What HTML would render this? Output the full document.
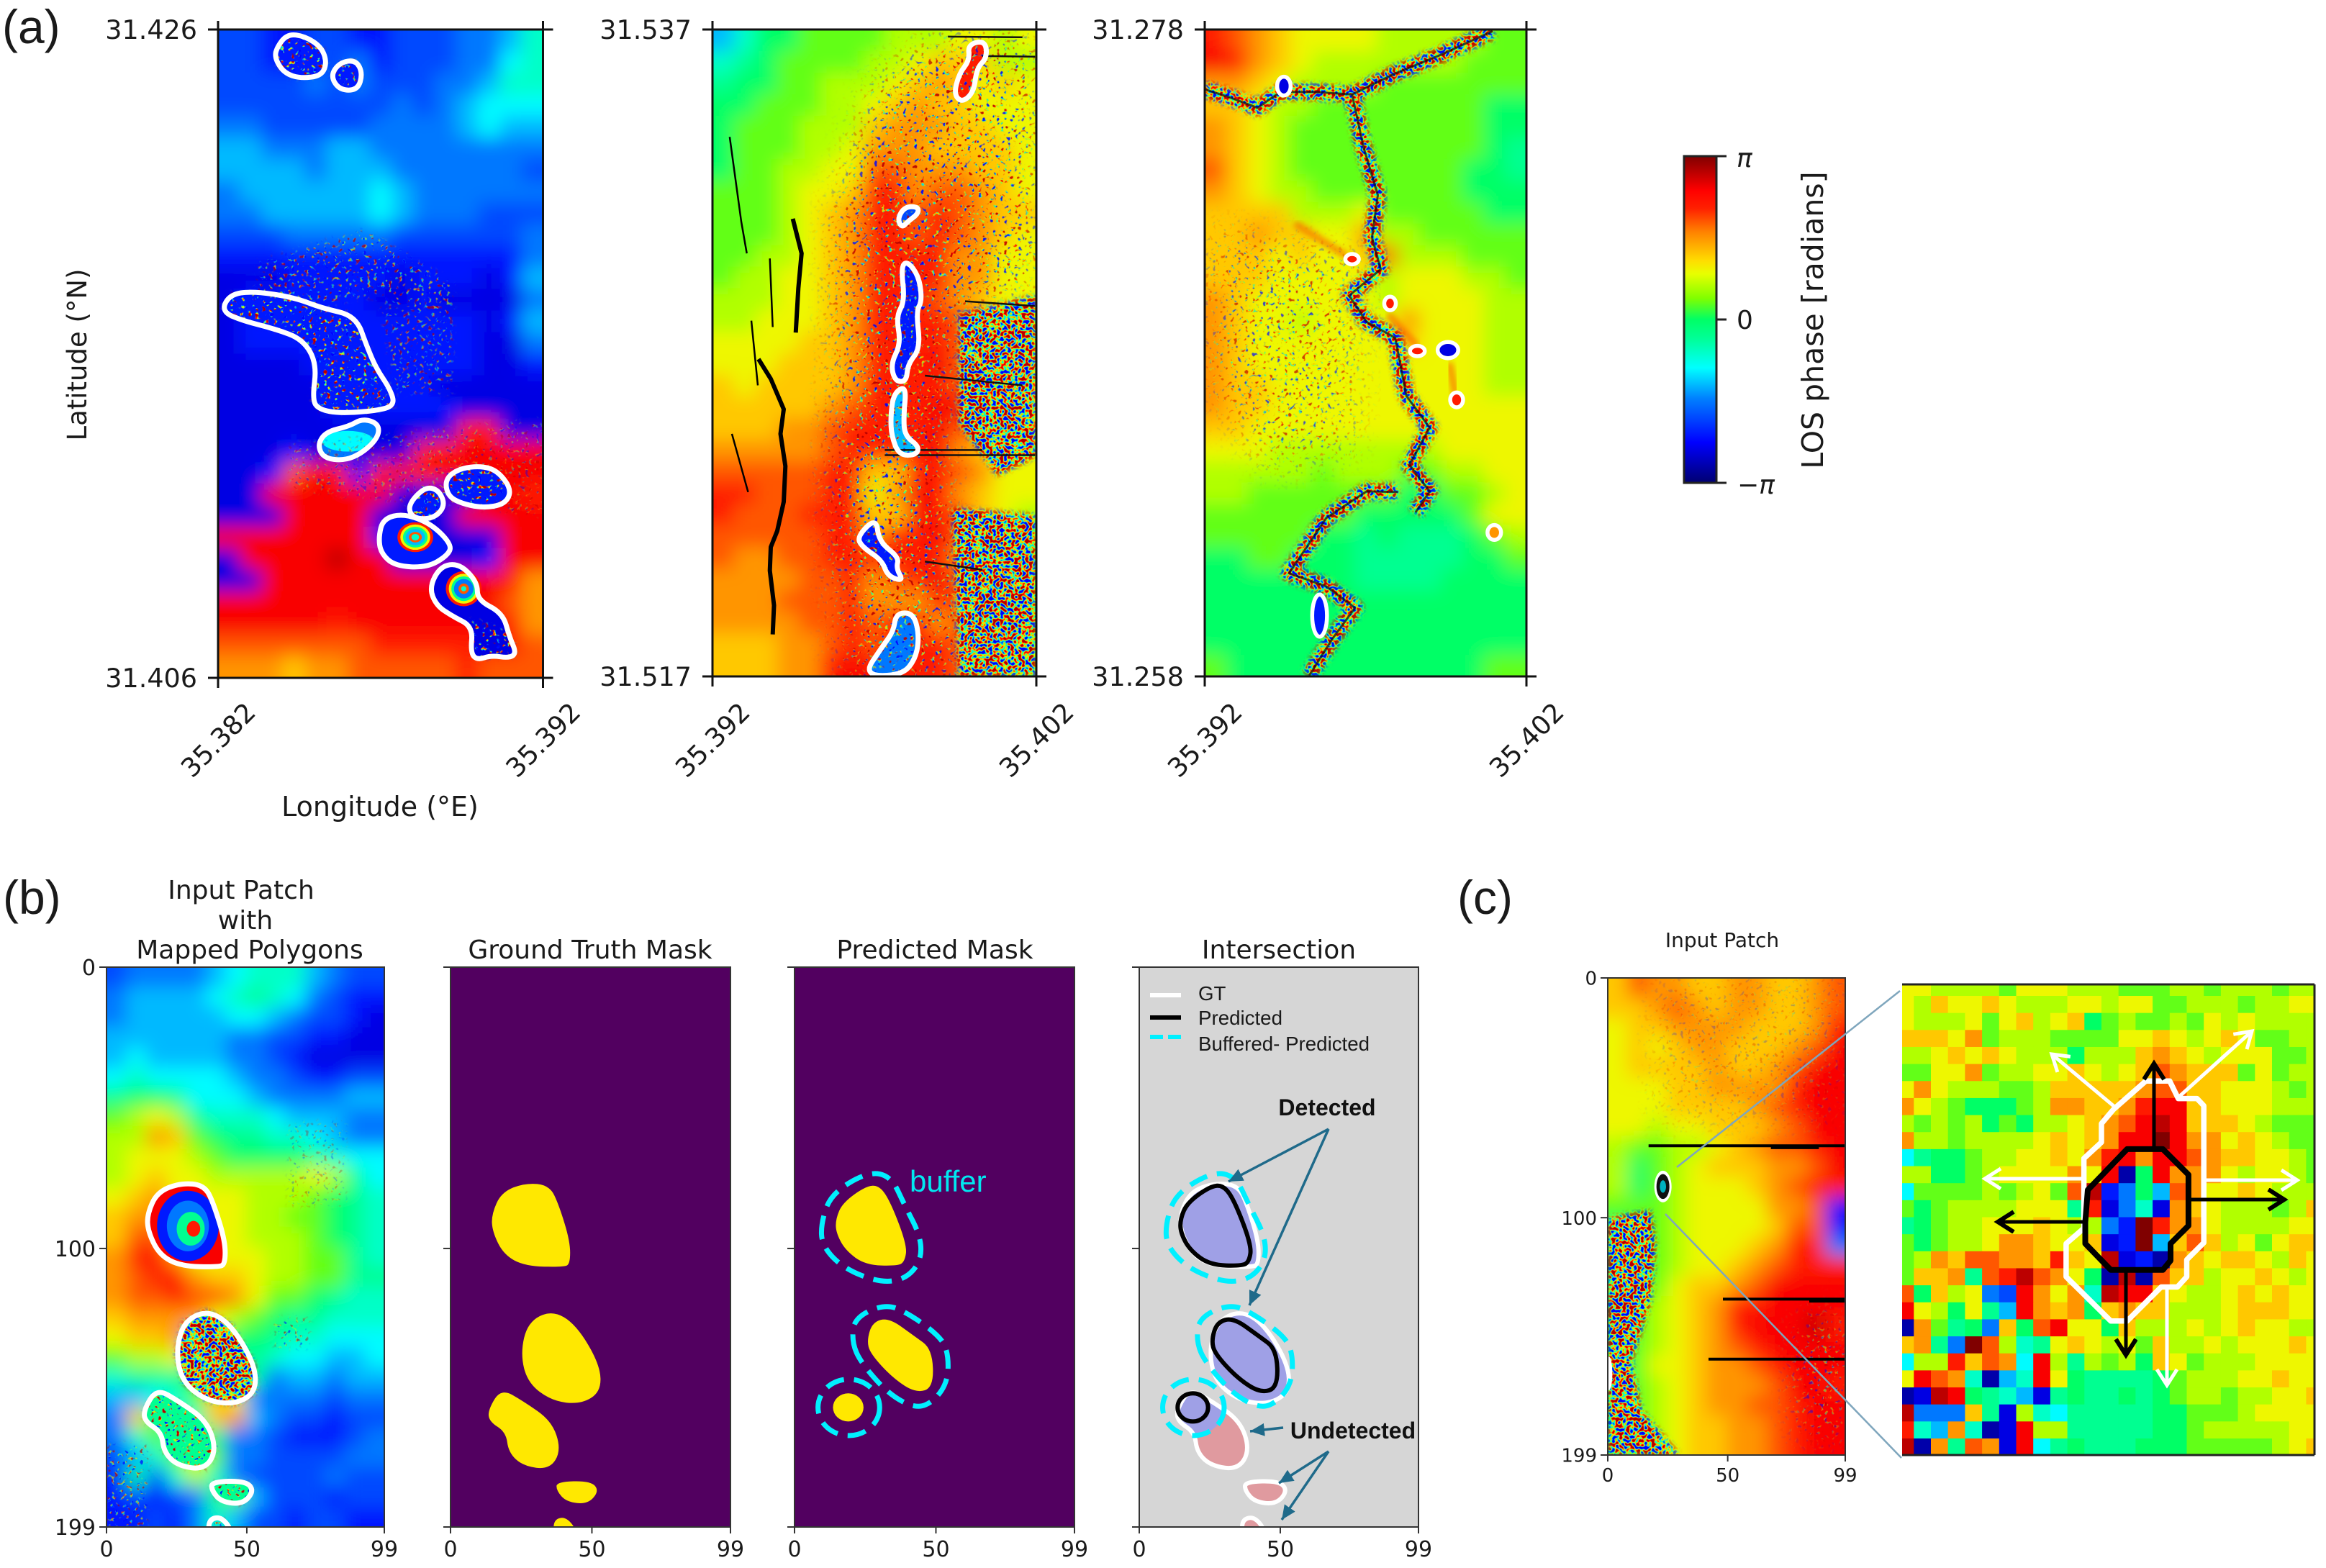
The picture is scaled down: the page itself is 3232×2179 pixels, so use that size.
<!DOCTYPE html>
<html lang="en">
<head>
<meta charset="utf-8">
<title>InSAR phase patches and detection masks</title>
<style>
html,body{margin:0;padding:0;background:#fff;}
svg{display:block;}
text{font-family:"DejaVu Sans","Liberation Sans",sans-serif;fill:#1a1a1a;}
.panel-letter{font-family:"Liberation Sans",sans-serif;font-size:66px;}
.lbl{font-size:37px;}
.title{font-size:36px;text-anchor:middle;}
.leg{font-family:"Liberation Sans",sans-serif;font-size:27.7px;}
.note{font-family:"Liberation Sans",sans-serif;font-weight:bold;font-size:32px;text-anchor:middle;fill:#111;}
</style>
</head>
<body>
<svg id="figure" xmlns="http://www.w3.org/2000/svg" width="3232" height="2179" viewBox="0 0 3232 2179">
<defs>
<filter id="soft"><feGaussianBlur stdDeviation="13"/></filter>
<filter id="softSmall"><feGaussianBlur stdDeviation="4"/></filter>
<filter id="softBig"><feGaussianBlur stdDeviation="24"/></filter>
<filter id="speckle" x="0" y="0" width="1" height="1" color-interpolation-filters="sRGB">
<feTurbulence type="fractalNoise" baseFrequency="0.2" numOctaves="1" seed="7"/>
<feColorMatrix type="matrix" values="3.6 0 0 0 -1.3  3.6 0 0 0 -1.3  3.6 0 0 0 -1.3  0 0 0 0 1"/>
<feComponentTransfer>
<feFuncR type="table" tableValues="0 0 0 .1 .8 1 1 1 .7"/>
<feFuncG type="table" tableValues="0 .3 .9 1 1 .8 .2 0 0"/>
<feFuncB type="table" tableValues="1 1 1 .6 0 0 0 0 0"/>
</feComponentTransfer>
</filter>
<filter id="speckleSparse" x="0" y="0" width="1" height="1" color-interpolation-filters="sRGB">
<feTurbulence type="fractalNoise" baseFrequency="0.2" numOctaves="1" seed="11"/>
<feColorMatrix type="matrix" values="3.6 0 0 0 -1.3  3.6 0 0 0 -1.3  3.6 0 0 0 -1.3  0 9 0 0 -5"/>
<feComponentTransfer>
<feFuncR type="table" tableValues="0 0 0 .1 .8 1 1 1 .7"/>
<feFuncG type="table" tableValues="0 .3 .9 1 1 .8 .2 0 0"/>
<feFuncB type="table" tableValues="1 1 1 .6 0 0 0 0 0"/>
</feComponentTransfer>
</filter>
<linearGradient id="phaseGradient" x1="0" y1="1" x2="0" y2="0">
<stop offset="0" stop-color="#000070"/><stop offset=".124" stop-color="#0000ff"/><stop offset=".258" stop-color="#0080ff"/><stop offset=".352" stop-color="#00ffff"/><stop offset=".44" stop-color="#00ff99"/><stop offset=".5" stop-color="#00ff66"/><stop offset=".565" stop-color="#80ff00"/><stop offset=".64" stop-color="#e8ff00"/><stop offset=".68" stop-color="#ffdd00"/><stop offset=".77" stop-color="#ff8000"/><stop offset=".84" stop-color="#ff2000"/><stop offset=".895" stop-color="#ff0000"/><stop offset="1" stop-color="#800000"/>
</linearGradient>
<marker id="headWhite" markerUnits="userSpaceOnUse" markerWidth="30" markerHeight="34" refX="24" refY="16" orient="auto"><path d="M2,2 L24,16 L2,30" fill="none" stroke="#fff" stroke-width="5"/></marker>
<marker id="headBlack" markerUnits="userSpaceOnUse" markerWidth="30" markerHeight="34" refX="24" refY="16" orient="auto"><path d="M2,2 L24,16 L2,30" fill="none" stroke="#000" stroke-width="6"/></marker>
<marker id="headTeal" markerUnits="userSpaceOnUse" markerWidth="22" markerHeight="18" refX="20" refY="9" orient="auto"><path d="M0,0 L20,9 L0,18 Z" fill="#1f6a8a"/></marker>
</defs>

<g id="rasters"></g>

<text class="panel-letter" x="3" y="60">(a)</text>
<text class="panel-letter" x="4" y="1270">(b)</text>
<text class="panel-letter" x="2025" y="1270">(c)</text>

<text class="lbl" transform="translate(120,493) rotate(-90)" text-anchor="middle">Latitude (°N)</text>
<text class="lbl" x="528" y="1134" text-anchor="middle" style="font-size:38px">Longitude (°E)</text>

<g>
<rect x="2340" y="217" width="45" height="454" fill="url(#phaseGradient)" stroke="#222" stroke-width="3"/>
<line x1="2385" x2="2399" y1="217" y2="217" stroke="#222" stroke-width="3"/>
<line x1="2385" x2="2399" y1="444" y2="444" stroke="#222" stroke-width="3"/>
<line x1="2385" x2="2399" y1="671" y2="671" stroke="#222" stroke-width="3"/>
<text x="2413" y="232" font-size="36" font-style="italic">π</text>
<text x="2413" y="457" font-size="36">0</text>
<text x="2414" y="686" font-size="36" font-style="italic">−π</text>
<text transform="translate(2533,445) rotate(-90)" text-anchor="middle" font-size="41">LOS phase [radians]</text>
</g>

<text class="title" x="335" y="1249">Input Patch</text>
<text class="title" x="341" y="1291">with</text>
<text class="title" x="347" y="1332">Mapped Polygons</text>
<text class="title" x="820" y="1332">Ground Truth Mask</text>
<text class="title" x="1299" y="1332">Predicted Mask</text>
<text class="title" x="1777" y="1332">Intersection</text>
<text x="2393" y="1316" text-anchor="middle" font-size="28">Input Patch</text>

<g id="overlays"></g>

<text x="1264" y="1656" font-size="42" style="font-family:'Liberation Sans',sans-serif;fill:#00e8f0">buffer</text>

<g>
<line x1="1598" x2="1641" y1="1383" y2="1383" stroke="#fff" stroke-width="6"/>
<line x1="1598" x2="1641" y1="1414" y2="1414" stroke="#000" stroke-width="6"/>
<line x1="1598" x2="1641" y1="1441" y2="1441" stroke="#00f0ff" stroke-width="6" stroke-dasharray="18 7"/>
<text class="leg" x="1665" y="1390">GT</text>
<text class="leg" x="1665" y="1424">Predicted</text>
<text class="leg" x="1665" y="1460">Buffered- Predicted</text>
</g>

<g fill="none" stroke="#1f6a8a" stroke-width="3.5">
<line x1="1846" y1="1569" x2="1707" y2="1642" marker-end="url(#headTeal)"/>
<line x1="1846" y1="1569" x2="1736" y2="1814" marker-end="url(#headTeal)"/>
<line x1="1783" y1="1984" x2="1737" y2="1989" marker-end="url(#headTeal)"/>
<line x1="1846" y1="2017" x2="1777" y2="2061" marker-end="url(#headTeal)"/>
<line x1="1846" y1="2017" x2="1781" y2="2112" marker-end="url(#headTeal)"/>
</g>
<text class="note" x="1844" y="1550">Detected</text>
<text class="note" x="1880" y="1999">Undetected</text>

<line x1="2330" y1="1622" x2="2640" y2="1377" stroke="#7fa6bd" stroke-width="2.5"/>
<line x1="2314" y1="1687" x2="2642" y2="2026" stroke="#7fa6bd" stroke-width="2.5"/>

<g fill="none">
<line x1="2937" y1="1537" x2="2851" y2="1465" stroke="#fff" stroke-width="5" marker-end="url(#headWhite)"/>
<line x1="3029" y1="1523" x2="3129" y2="1433" stroke="#fff" stroke-width="5" marker-end="url(#headWhite)"/>
<line x1="2894" y1="1638" x2="2758" y2="1638" stroke="#fff" stroke-width="5" marker-end="url(#headWhite)"/>
<line x1="3065" y1="1640" x2="3192" y2="1640" stroke="#fff" stroke-width="5" marker-end="url(#headWhite)"/>
<line x1="3011" y1="1790" x2="3011" y2="1925" stroke="#fff" stroke-width="5" marker-end="url(#headWhite)"/>
<line x1="2993" y1="1597" x2="2993" y2="1478" stroke="#000" stroke-width="5" marker-end="url(#headBlack)"/>
<line x1="3042" y1="1667" x2="3174" y2="1667" stroke="#000" stroke-width="5" marker-end="url(#headBlack)"/>
<line x1="2899" y1="1698" x2="2776" y2="1698" stroke="#000" stroke-width="5" marker-end="url(#headBlack)"/>
<line x1="2954" y1="1767" x2="2954" y2="1883" stroke="#000" stroke-width="5" marker-end="url(#headBlack)"/>
</g>
</svg>

<script>
/* Phase bins: 0 = -pi ... 10 = 0 ... 20 = +pi */
const a1LatTicks = [31.426, 31.406];
const a1LonTicks = [35.382, 35.392];
const a2LatTicks = [31.537, 31.517];
const a2LonTicks = [35.392, 35.402];
const a3LatTicks = [31.278, 31.258];
const a3LonTicks = [35.392, 35.402];
const patchColTicks = [0, 50, 99];
const patchRowTicks = [0, 100, 199];

const a1Phase = [
[4,4,3,3,4,4,3,3,4,4,4,5,5,6,8],
[4,4,3,3,4,4,5,3,4,4,4,5,5,7,8],
[4,4,4,4,5,4,5,4,4,4,5,5,6,8,8],
[4,4,4,4,4,4,4,4,5,4,5,6,7,7,7],
[5,5,4,4,4,4,4,5,5,5,5,6,7,6,6],
[6,6,5,5,5,6,6,5,5,5,5,5,5,5,5],
[6,6,6,6,5,6,6,6,5,5,5,5,5,5,4],
[5,6,6,6,6,6,6,7,6,5,5,5,5,5,5],
[5,5,6,6,6,6,6,7,6,5,5,5,4,4,4],
[4,4,4,5,5,5,5,5,4,4,4,4,4,4,5],
[3,3,3,3,3,3,3,3,3,3,3,3,3,3,5],
[2,2,2,3,3,3,3,3,2,3,3,3,2,3,6],
[2,3,3,3,3,3,3,2,2,3,2,2,2,2,5],
[2,3,3,3,3,3,3,3,3,3,3,3,2,3,6],
[2,3,3,3,3,3,3,3,3,3,3,3,2,2,5],
[2,2,2,2,3,3,3,3,3,3,3,3,2,2,3],
[2,2,2,2,2,3,3,3,3,3,2,2,2,2,2],
[2,2,2,2,2,3,3,3,3,3,3,2,2,2,2],
[2,2,2,2,2,2,2,2,2,2,2,17,17,2,2],
[2,2,2,3,2,2,2,2,2,17,17,18,18,18,18],
[2,2,3,16,18,17,3,17,18,17,18,18,18,18,18],
[2,2,18,18,18,18,18,18,2,2,2,2,18,18,17],
[2,2,2,18,18,18,18,2,2,2,2,18,18,18,18],
[18,18,18,18,18,18,18,3,2,2,2,2,2,18,18],
[2,18,18,18,18,19,18,18,2,2,2,2,3,18,18],
[2,2,18,18,18,18,18,18,18,18,18,18,18,17,15],
[18,18,18,18,18,18,18,18,18,18,18,18,18,16,15],
[18,18,18,18,18,17,18,18,18,18,18,18,17,17,15],
[16,16,16,16,16,16,16,17,17,17,17,17,17,17,16],
[15,15,15,14,15,15,16,16,16,16,16,17,16,16,16]];

const a2Phase = [
[6,8,10,10,11,11,11,11,12,12,12,13,13,12,13],
[8,9,10,11,11,11,11,12,12,13,14,14,14,12,12],
[9,10,10,11,11,12,12,12,13,14,15,14,13,14,13],
[10,10,11,11,11,12,12,13,14,15,14,14,13,13,13],
[10,11,11,11,12,12,12,14,15,15,15,14,14,13,13],
[10,11,11,11,12,12,13,15,15,15,14,14,14,14,13],
[10,11,11,12,12,13,13,16,16,15,15,15,14,14,13],
[11,11,11,12,13,13,14,17,17,15,16,16,15,14,13],
[11,11,11,12,13,14,15,17,17,16,17,16,15,14,14],
[11,11,11,12,13,14,15,17,17,16,17,16,15,14,13],
[11,11,12,12,13,14,15,17,17,17,17,15,15,13,13],
[11,12,12,13,13,14,15,17,17,17,17,15,15,13,13],
[12,12,12,13,13,14,15,17,17,17,16,15,14,13,13],
[12,12,13,13,13,14,15,17,17,17,17,16,15,13,12],
[13,13,13,13,14,14,15,17,17,17,17,16,15,13,13],
[13,13,13,14,14,14,15,17,17,17,18,16,15,13,13],
[14,13,14,14,14,14,15,17,17,17,17,16,16,14,14],
[14,14,14,14,14,15,16,17,17,17,18,18,15,14,14],
[14,14,14,15,15,16,17,17,17,17,18,16,17,14,13],
[15,15,15,15,15,16,17,17,17,17,18,15,14,13,13],
[16,16,16,16,16,17,17,14,14,17,17,16,15,13,13],
[17,17,16,16,16,17,17,13,15,18,17,15,14,13,13],
[17,16,16,16,17,17,17,14,14,18,17,16,14,13,12],
[16,16,16,16,16,17,17,15,17,17,18,16,14,12,12],
[16,15,15,16,16,17,17,17,17,17,17,15,14,12,12],
[15,15,15,15,16,16,17,15,16,17,18,16,14,12,12],
[15,15,15,16,16,16,17,15,15,15,17,16,14,12,12],
[15,15,15,15,16,16,17,16,17,17,15,16,14,12,12],
[14,14,14,15,15,16,17,16,17,17,17,16,14,12,12],
[14,14,14,15,15,17,18,17,17,17,17,16,14,12,12]];

const a3Phase = [
[17,16,15,14,13,13,13,13,12,12,12,12,12,11,11],
[18,17,15,14,13,12,12,12,12,12,12,12,11,11,11],
[15,15,14,13,12,12,12,12,11,11,11,11,11,11,11],
[14,14,13,12,12,11,11,11,11,11,11,11,11,10,10],
[15,14,13,12,11,11,11,11,11,11,11,11,11,10,10],
[15,14,13,12,11,11,11,11,11,11,11,11,11,10,9],
[16,14,13,12,11,11,11,11,11,11,11,11,10,10,9],
[15,14,13,12,12,11,11,11,11,11,11,11,10,10,10],
[14,14,14,14,12,12,12,13,11,11,11,11,11,10,10],
[14,14,15,14,14,13,13,15,12,12,11,11,11,11,11],
[14,14,14,13,14,13,13,14,16,12,12,12,11,11,11],
[14,14,14,13,13,13,13,13,12,13,13,13,12,12,11],
[15,14,13,13,13,13,13,13,12,13,13,13,13,12,12],
[15,14,13,13,12,13,13,13,13,15,13,13,13,12,12],
[15,14,13,13,13,13,13,13,13,14,13,13,13,12,12],
[15,14,13,13,13,13,13,13,13,13,13,13,13,12,12],
[15,14,14,13,13,13,13,13,13,13,13,13,13,12,12],
[15,14,14,13,13,13,13,13,13,13,13,13,13,13,13],
[14,14,13,13,13,13,13,13,13,13,13,13,13,13,13],
[13,13,13,12,12,12,12,12,12,12,12,13,13,13,13],
[12,12,12,12,12,11,12,12,12,11,11,12,12,13,13],
[12,12,11,11,11,11,11,11,11,10,10,11,11,12,13],
[11,11,11,11,11,11,11,10,10,10,10,10,11,13,13],
[11,11,11,11,11,10,10,9,10,9,9,9,10,11,12],
[10,10,11,11,10,10,10,9,9,9,9,9,10,10,11],
[10,10,10,10,10,10,10,9,9,9,9,10,10,10,10],
[10,10,10,10,10,10,10,10,10,10,10,10,10,10,10],
[10,10,10,10,10,10,10,10,10,10,10,10,10,10,10],
[10,10,10,10,10,10,10,10,10,10,10,10,10,10,10],
[11,10,10,10,10,10,10,10,10,10,10,10,10,11,11]];

const b1Phase = [
[4,5,5,5,5,6,7,8,8,8,6,5,4,4],
[5,6,6,6,6,7,8,9,8,7,5,4,3,3],
[5,6,6,6,6,6,7,7,6,5,4,4,3,2],
[6,6,6,6,6,6,5,5,4,4,3,3,2,2],
[6,7,6,6,6,6,5,5,4,3,2,2,2,2],
[7,8,7,7,7,7,6,5,5,4,3,3,4,4],
[9,10,10,9,7,7,7,6,5,5,5,5,6,6],
[11,12,13,12,9,8,8,8,7,6,6,6,5,5],
[12,12,15,14,11,10,9,9,8,8,7,6,5,5],
[12,13,13,13,12,11,10,10,10,10,9,8,7,7],
[12,13,14,13,13,12,12,12,12,12,13,12,9,7],
[13,14,15,13,13,13,13,12,12,12,11,10,9,8],
[14,15,15,13,13,13,13,12,12,11,11,10,9,8],
[14,16,16,14,13,13,13,12,12,12,11,10,9,8],
[15,17,17,15,13,13,13,13,12,12,11,11,9,8],
[15,16,17,17,15,14,14,13,12,12,11,11,9,9],
[15,16,16,17,16,16,15,13,11,11,10,9,8,8],
[14,15,15,15,15,13,12,11,10,9,9,8,8,8],
[13,14,14,15,6,13,10,10,9,8,8,7,7,7],
[11,12,12,13,5,17,8,9,8,7,7,6,6,7],
[8,9,9,9,10,12,10,9,5,6,6,5,6,6],
[6,6,7,8,11,14,13,5,5,5,5,4,5,5],
[5,14,10,7,8,14,15,6,5,4,4,3,4,4],
[5,8,11,8,11,9,5,5,4,3,3,3,4,5],
[4,6,8,11,13,11,5,5,4,4,4,4,5,5],
[3,9,4,8,12,8,5,4,4,4,4,5,4,4],
[3,4,3,4,5,9,11,6,4,4,4,3,4,4],
[3,3,4,3,5,8,6,4,4,3,4,4,3,3]];

const c1Phase = [
[14,16,15,15,14,14,15,15,14,14,15,16],
[14,14,15,16,15,14,15,15,14,14,15,16],
[13,14,14,15,15,15,15,14,14,14,15,17],
[13,14,13,14,15,15,14,14,14,15,16,18],
[13,14,14,14,14,15,14,14,15,16,18,18],
[13,13,13,14,14,15,15,15,15,17,18,18],
[13,13,13,14,14,14,14,15,16,17,18,18],
[13,13,12,13,13,14,14,14,15,16,18,18],
[12,11,11,12,12,13,14,15,16,16,17,18],
[12,10,11,12,13,14,14,14,15,15,16,18],
[12,10,11,12,13,13,13,14,15,16,17,17],
[11,11,11,12,13,13,13,13,15,15,16,3],
[10,11,11,12,13,13,13,13,14,16,16,3],
[10,11,11,12,13,13,13,14,15,17,17,5],
[10,11,11,12,13,13,14,15,16,17,17,17],
[10,11,11,13,14,14,15,16,18,18,18,18],
[10,11,12,13,14,15,17,17,18,18,18,18],
[10,11,12,13,14,15,17,18,18,18,19,17],
[10,11,12,13,14,15,16,17,18,18,18,18],
[10,11,13,13,14,15,15,16,17,18,18,18],
[10,11,12,13,14,15,15,15,16,18,18,17],
[10,11,12,13,14,15,15,16,16,17,18,18],
[10,11,12,13,14,14,15,15,16,17,18,18],
[10,11,12,13,14,14,15,15,16,17,18,18]];

const insetPhase = [
[13,13,12,12,12,12,11,13,13,13,12,12,12,11,11,11,12,12,11,12,12,12,11,12,12],
[13,12,14,13,13,14,13,12,12,12,13,13,12,13,13,11,11,12,12,12,11,12,12,13,13],
[13,12,12,12,13,11,13,14,12,13,14,10,11,12,11,11,12,11,13,12,13,12,12,12,12],
[14,14,14,13,15,11,12,12,12,11,11,11,11,13,13,14,13,12,13,14,13,11,11,12,12],
[12,12,13,14,13,14,13,12,12,12,10,12,12,12,14,15,14,13,12,13,13,13,11,11,12],
[11,11,13,13,15,11,12,12,13,13,14,13,12,13,14,16,15,14,14,14,11,13,11,12,12],
[13,15,13,12,12,12,11,11,12,14,14,14,14,14,15,16,16,14,14,13,13,13,12,11,12],
[15,13,12,11,10,10,10,11,12,15,15,14,14,15,17,18,18,14,14,13,13,13,12,12,12],
[12,11,12,11,12,10,11,10,12,12,13,14,15,16,18,19,18,14,14,14,13,12,11,11,11],
[15,12,12,11,12,12,12,12,13,14,13,14,15,18,18,20,18,15,15,13,14,13,12,11,11],
[7,9,10,10,11,12,12,13,13,14,13,15,17,18,15,18,18,16,15,14,14,13,13,12,11],
[12,12,10,10,11,12,13,13,13,13,15,13,18,1,10,18,15,15,15,13,12,13,13,12,11],
[7,11,11,11,11,12,11,12,13,11,16,19,3,5,10,6,16,15,13,13,14,13,12,12,12],
[11,10,11,12,12,12,12,13,13,13,9,17,2,5,8,2,15,14,13,12,12,12,11,12,14],
[9,10,11,12,12,13,13,13,14,13,12,12,5,3,20,17,15,15,13,12,12,12,12,13,13],
[11,10,11,12,12,13,15,15,14,13,13,14,2,3,20,6,14,16,14,12,13,11,13,14,14],
[11,12,15,14,16,16,15,15,14,17,14,13,19,2,3,1,15,14,13,14,14,13,12,14,13],
[11,14,14,15,9,16,17,19,16,15,13,10,1,19,1,16,14,14,12,13,13,14,13,12,13],
[16,10,14,12,13,5,4,18,15,13,15,8,19,18,18,14,13,12,12,13,14,13,14,13,13],
[18,13,12,10,13,9,6,18,15,14,15,10,14,15,14,14,12,12,12,13,14,14,14,13,13],
[1,15,11,9,10,5,14,10,16,18,13,13,10,14,12,12,12,13,12,13,14,13,13,12,12],
[14,15,9,5,20,16,12,8,9,13,14,13,12,13,11,14,12,12,13,12,13,13,13,14,13],
[7,12,12,17,14,16,15,7,18,12,9,12,11,12,10,14,13,11,12,12,12,13,13,13,13],
[13,18,16,15,8,1,6,8,18,13,10,9,9,9,9,10,11,12,12,12,13,13,14,13,13],
[1,2,19,18,10,9,8,6,2,9,10,9,9,10,9,10,11,12,12,11,12,12,13,13,14],
[19,5,5,5,14,9,2,12,8,7,9,9,9,9,9,10,10,11,11,11,12,13,13,13,13],
[17,8,6,15,8,1,2,18,12,12,9,9,9,9,9,10,10,11,12,12,12,12,12,13,13],
[19,1,15,9,16,15,2,18,7,9,10,9,9,9,10,10,10,11,11,11,11,11,12,13,14]];

/* Outlines in patch units: x 0-100, y 0-200 */
const a1Outlines = [
[[17.7,6.2],[21.2,1.3],[26.8,2.1],[31.8,5.4],[33.5,10.2],[31.8,14.3],[25.4,15.1],[20.5,13.5],[17.7,9.4]],
[[34.6,14.3],[37.4,10.2],[42.4,9.4],[44.5,13.5],[43,18.7],[37.4,18.7]],
[[1,87],[3.5,81.8],[10.6,80.7],[23.3,82.6],[31.8,85.9],[42.4,88.3],[45.9,98],[48.7,104.6],[53,111],[54.4,116],[48.7,117.6],[37.4,118.4],[31.1,117.2],[29,114.3],[30.4,103],[26.1,95.6],[17.7,92.4],[7.8,89.9]],
[[30.6,128.1],[33.2,124.1],[40.3,122.4],[44.5,120],[49.4,121.6],[49.4,125.7],[44.5,130.6],[38.8,133],[32.5,132.2]],
[[69.9,138.7],[74.2,135.4],[81.2,134.6],[86.2,136.3],[90.4,142],[88.3,146.5],[81.2,147.6],[74.2,146],[70.6,143.6]],
[[58.3,146.8],[63.6,141.1],[67.8,141.9],[70,146.8],[66.4,150.9],[60,150.9]],
[[49.4,156.6],[50.8,150.9],[57.2,149.3],[65.7,152.5],[72,159],[70.6,162.3],[64.3,166],[54.4,165.5],[50.1,161.5]],
[[65,172],[68.5,165.5],[74.2,164.7],[79.8,170.4],[79.8,176],[87.6,180],[89.7,187.4],[91.8,192.3],[89.7,193.9],[84,193.1],[79.8,194.5],[77.7,192.3],[78.4,184.2],[72,180.9],[67.1,177.6]]];
const a1OutlineFill = [3, 3, 3, 5, 3, 3, 3, 2];
const a1Rings = [
[40,127,8,3.2,7],
[60.7,156.6,5.5,4.6,17],[60.7,156.6,4.6,3.9,13],[60.7,156.6,3.8,3.2,9],[60.7,156.6,3,2.5,6],[60.7,156.6,2,1.6,16],[60.7,156.6,1.2,1,8],
[75.6,172.5,5.5,5.4,17],[75.6,172.5,4.6,4.6,13],[75.6,172.5,3.8,3.8,9],[75.6,172.5,3,3,5],[75.6,172.5,1.6,1.6,16],[75.6,172.5,.8,.8,8]];

const a2Outlines = [
[[78.9,4.6],[84.2,3.4],[84.8,8.7],[81.6,11.9],[80.7,19.3],[77.1,22.6],[74.5,20],[76.2,13.6],[79.4,9.5]],
[[57.1,58.5],[59.4,54.8],[63.5,54.8],[63.5,57],[60.3,59.4],[58.5,61.3]],
[[58.2,73.3],[60.3,71.6],[63.8,76.5],[64.7,83.9],[62.9,87.2],[64.2,98.6],[60.3,103.5],[59.9,108.8],[56.4,108.8],[55,103.5],[58.2,97],[56.7,88.8],[59.4,83.9]],
[[55,119.9],[55.9,112.5],[59.9,110],[59,119.9],[59.4,125.6],[63.8,128.9],[62.9,131.6],[57.6,131.6],[55.3,125.6]],
[[44.7,156.7],[50.5,150.9],[51.4,158.3],[57.6,163.2],[56.7,166.5],[59,170.6],[54.1,169],[52.3,164],[46.1,159.9]],
[[46.5,199.7],[52.3,191],[55.9,186.1],[56.7,180.4],[62,180.4],[63.8,186.9],[62.9,194.3],[58.5,199.7]]];
const a2OutlineFill = [17, 4, 3, 6, 3, 5];

const a2Cracks = [
[[24.8,58.5],[27.5,69.2],[26.5,80],[25.7,93.7]],
[[14.2,101.9],[18,108],[22,117.4],[21,125],[22.5,135],[22,146],[20,155],[18,160],[17.7,167.3],[19,178],[18.6,187]],
[[5.3,33.2],[8.9,59.4],[10.6,69.2]],
[[17.7,70.8],[18.6,92]],
[[6,125],[11,143]],
[[12,90],[14,110]]];
const a2CrackWidth = [6, 6, 2.5, 2.5, 2.5, 2.5];

const a2Streaks = [
[[72.7,2.2],[95.7,2.4]],
[[83.3,8.2],[99.6,8.4]],
[[78,84],[99.5,85.5]],
[[65.6,107],[95.7,110]],
[[53.2,130],[83.3,130]],
[[53.2,131.6],[99.6,131.6]],
[[65.6,164.5],[83.3,167]]];

const a3Spots = [
[24.6,17.5,2.1,2.9,2],
[45.8,71,2.1,1.6,17],
[57.6,84.7,1.8,2.1,17],
[66.1,99.4,2.3,1.6,17],
[75.6,99.1,3.2,2.5,2],
[78.3,114.5,2,2.3,17],
[90,155.5,2.1,2.3,15],
[35.7,181.2,2.3,6.5,3]];

const a3River = [
[[0,18.5],[7.5,20.9],[16.4,24.2],[23.5,19.3],[34.2,19.3],[45.8,20.1],[59.2,13.6],[73.4,7.8],[89.5,0.5]],
[[45.8,20.1],[49.4,36.5],[53.8,51.2],[52,64.3],[54.7,74.1],[44.9,82.3],[50.3,90.4],[59.2,95.3],[62.7,113.3],[69.9,123.1],[63.6,134.6],[69.9,142.8],[65.5,149.3]],
[[60,143],[50.3,142.8],[37.8,151],[26.2,168.1],[37.8,172.2],[46.7,178.8],[39.6,188.5],[32.5,199.7]]];

const a3Plumes = [
[[44,70],[28,60]],
[[57,88],[66,98]],
[[76,103],[78,113]]];

/* Mask shapes in image indices: column 0-99, row 0-199 */
const gtOutlines = [
[[14.5,87.9],[18,80],[26.4,76.7],[35,77.5],[38.4,84.7],[42.3,97.5],[42.3,105.5],[40,106.6],[26.4,106.3],[18.8,102.2],[14.8,94]],
[[24.7,137.4],[27.3,126.2],[35.8,121.9],[44.4,127],[52.9,141.4],[53.2,151],[46,155.4],[35.8,154.2],[27.3,147.8]],
[[13.3,157.3],[17.9,149.8],[25.6,154.2],[35.8,161.3],[39.2,171.7],[35,178.6],[25.6,177.3],[20.5,172.5],[19.6,165.3],[13.7,161.5]],
[[37.5,182.9],[49.5,182.6],[52.6,186.1],[48.6,190.9],[41,190.1],[37.5,186.1]],
[[36.3,201],[36.7,196.2],[41,195.4],[45.2,201]]];

const b1RimRings = [
[29,92,11,12.5,3],
[29,92,7.5,9,5],
[30,93,5,6,9],
[31,93,2.4,2.8,17]];

const predictedOutlines = [
[[14.6,89.4],[17,83.8],[25.1,77.9],[30,77.5],[34.1,83.8],[39.8,99],[39,104.6],[36.5,106.2],[25.1,105.9],[17.9,100.6],[14.6,94.2]],
[[25.6,132.6],[27.6,126.2],[33.3,124.6],[42.2,131],[48.7,135.8],[49.2,149.4],[43,151.4],[34.9,146.2],[26.8,137.4]]];

const predictedSpot = [19, 156.5, 5.4, 5];

const bufferOutlines = [
[[9.4,90.9],[13,80.5],[26,72.7],[34.1,74.3],[39,84.7],[44.7,95.9],[44.7,104.7],[39,111],[30,112.1],[17.2,107],[9.7,99]],
[[20.3,133.4],[21.1,124.6],[32.5,119.5],[41.4,123.8],[51.1,131],[54.3,136.6],[54.3,147],[49.5,154.2],[43,157],[33.3,151.8],[23.5,140.6]]];

const bufferSpot = [19.2, 156.5, 10.9, 10];

const c1Streaks = [
[[17,70],[99,70]],
[[68,70.5],[88,70.5]],
[[48,134],[99,134]],
[[84,134.5],[99,134.5]],
[[42,159],[99,159]]];

const insetGtOutline = [[14.6,6],[16,6],[16.5,7.03],[17.6,7.03],[18,7.45],[18,15.5],[17,16.5],[17,17.5],[16.45,18.1],[15.5,18.1],[13.5,20.1],[12.55,20.1],[9.93,17.5],[9.93,15.55],[10.97,14.65],[10.97,10.55],[12,9.6],[12,8.5],[12.7,7.67]];
const insetPredOutline = [[11.2,12.4],[13.5,10],[15.6,10],[17.1,11.5],[17.1,14.5],[16.05,15.55],[16.05,16.55],[15.6,17.1],[12.55,17.1],[11.05,15.55],[11.05,14.3]];

const colormapStops = [[0,0,0,112],[.124,0,0,255],[.258,0,128,255],[.352,0,255,255],[.44,0,255,153],[.5,0,255,102],[.565,128,255,0],[.64,232,255,0],[.68,255,221,0],[.77,255,128,0],[.84,255,32,0],[.895,255,0,0],[1,128,0,0]];

const NS = 'http://www.w3.org/2000/svg';
const rasters = document.getElementById('rasters');
const overlays = document.getElementById('overlays');
const defs = document.querySelector('#figure defs');

function mk(tag, parent, name) {
  const el = document.createElementNS(NS, tag);
  
  
  parent.appendChild(el);
  return el;
}
function put(el, attrs) { for (const k in attrs) el.setAttribute(k, attrs[k]); return el; }
function scale(d0, d1, r0, r1) { return v => r0 + (v - d0) / (d1 - d0) * (r1 - r0); }
function phaseColor(bin) {
  const t = Math.max(0, Math.min(1, bin / 20));
  for (let i = 1; i < colormapStops.length; i++) {
    const a = colormapStops[i - 1], b = colormapStops[i];
    if (t <= b[0]) {
      const f = (t - a[0]) / (b[0] - a[0]);
      return 'rgb(' + [1, 2, 3].map(k => Math.round(a[k] + (b[k] - a[k]) * f)).join(',') + ')';
    }
  }
  return '#800000';
}
function pathOf(points, sx, sy, closed) {
  return points.map((p, i) => (i ? 'L' : 'M') + sx(p[0]).toFixed(1) + ',' + sy(p[1]).toFixed(1)).join(' ') + (closed ? ' Z' : '');
}
function smoothOf(points, sx, sy) {
  const n = points.length;
  const px = points.map(p => [sx(p[0]), sy(p[1])]);
  const mid = i => { const a = px[(i + n) % n], b = px[(i + 1) % n]; return ((a[0] + b[0]) / 2).toFixed(1) + ',' + ((a[1] + b[1]) / 2).toFixed(1); };
  let d = 'M' + mid(-1);
  for (let i = 0; i < n; i++) d += ' Q' + px[i][0].toFixed(1) + ',' + px[i][1].toFixed(1) + ' ' + mid(i);
  return d + ' Z';
}
function clipFor(id, box) {
  const c = mk('clipPath', defs, 'clip-' + id);
  c.setAttribute('id', 'clip-' + id);
  const r = mk('rect', c, 'clip-rect-' + id);
  put(r, {x: box.x, y: box.y, width: box.w, height: box.h});
  return 'url(#clip-' + id + ')';
}
function heatmap(id, grid, box, parent) {
  const outer = mk('g', parent, id + '-raster');
  outer.setAttribute('clip-path', clipFor(id, box));
  const inner = mk('g', outer, id + '-cells');
  inner.setAttribute('filter', 'url(#soft)');
  const xs = scale(0, grid[0].length, box.x, box.x + box.w);
  const ys = scale(0, grid.length, box.y, box.y + box.h);
  grid.forEach((row, r) => row.forEach((v, c) => {
    const cell = mk('rect', inner, id + '-cell');
    const pad = 60;
    const x0 = xs(c) - (c === 0 ? pad : 0);
    const x1 = xs(c + 1) + (c === row.length - 1 ? pad : 1);
    const y0 = ys(r) - (r === 0 ? pad : 0);
    const y1 = ys(r + 1) + (r === grid.length - 1 ? pad : 1);
    put(cell, {x: x0, y: y0, width: x1 - x0, height: y1 - y0, fill: phaseColor(v)});
  }));
  return outer;
}
function speckle(id, outer, box, shapes, lines, sx, sy, texture, blur) {
  const m = mk('mask', defs, id + '-speckle-mask');
  m.setAttribute('id', 'mask-' + id);
  put(m, {maskUnits: 'userSpaceOnUse', x: box.x, y: box.y, width: box.w, height: box.h});
  const g = mk('g', m, id + '-speckle-shapes');
  g.setAttribute('filter', 'url(#' + blur + ')');
  shapes.forEach(s => {
    const p = mk('path', g, id + '-speckle-shape');
    put(p, {d: pathOf(s.pts, sx, sy, true), fill: '#fff', 'fill-opacity': s.o});
  });
  (lines || []).forEach(l => {
    const p = mk('path', g, id + '-speckle-line');
    put(p, {d: pathOf(l, sx, sy, false), fill: 'none', stroke: '#fff', 'stroke-width': 22, 'stroke-linejoin': 'round'});
  });
  const t = mk('rect', outer, id + '-speckle-texture');
  put(t, {x: box.x, y: box.y, width: box.w, height: box.h, fill: '#fff', filter: 'url(#' + texture + ')', mask: 'url(#mask-' + id + ')'});
}
function strokePoly(parent, pts, sx, sy, name, color, width, closed, dash) {
  const p = mk('path', parent, name);
  const d = closed === true ? smoothOf(pts, sx, sy) : pathOf(pts, sx, sy, closed === 'sharp');
  put(p, {d: d, fill: 'none', stroke: color, 'stroke-width': width, 'stroke-linejoin': 'round', 'stroke-linecap': 'butt'});
  if (dash) p.setAttribute('stroke-dasharray', dash);
  return p;
}
function fillPoly(parent, pts, sx, sy, name, color) {
  const p = mk('path', parent, name);
  put(p, {d: smoothOf(pts, sx, sy), fill: color});
  return p;
}
function segment(parent, x1, y1, x2, y2, name, color, width) {
  const l = mk('line', parent, name);
  put(l, {x1: x1, y1: y1, x2: x2, y2: y2, stroke: color, 'stroke-width': width});
  return l;
}
function label(parent, txt, x, y, name, size, anchor, rotate) {
  const t = mk('text', parent, name);
  put(t, {x: x, y: y, 'font-size': size, 'text-anchor': anchor});
  if (rotate) t.setAttribute('transform', 'rotate(' + rotate + ' ' + x + ' ' + (y - 13) + ')');
  t.textContent = txt;
  return t;
}
function ellipseIn(parent, spot, sx, sy, name, attrs) {
  const e = mk('ellipse', parent, name);
  put(e, {cx: sx(spot[0]), cy: sy(spot[1]), rx: sx(spot[2]) - sx(0), ry: sy(spot[3]) - sy(0)});
  put(e, attrs);
  return e;
}

/* ---------- panel (a) ---------- */
function geoPanel(id, box, grid, latTicks, lonTicks) {
  const outer = heatmap(id, grid, box, rasters);
  const sx = scale(0, 100, box.x, box.x + box.w);
  const sy = scale(0, 200, box.y, box.y + box.h);
  const lon = scale(lonTicks[0], lonTicks[1], box.x, box.x + box.w);
  const lat = scale(latTicks[0], latTicks[1], box.y, box.y + box.h);
  const axes = mk('g', overlays, id + '-axes');
  const frame = mk('rect', axes, id + '-frame');
  put(frame, {x: box.x, y: box.y, width: box.w, height: box.h, fill: 'none', stroke: '#111', 'stroke-width': 3});
  latTicks.forEach(v => {
    segment(axes, box.x - 14, lat(v), box.x, lat(v), id + '-lat-tick-left', '#111', 3);
    segment(axes, box.x + box.w, lat(v), box.x + box.w + 14, lat(v), id + '-lat-tick-right', '#111', 3);
    label(axes, v.toFixed(3), box.x - 29, lat(v) + 13, id + '-lat-label', 36.5, 'end');
  });
  lonTicks.forEach(v => {
    segment(axes, lon(v), box.y - 12, lon(v), box.y, id + '-lon-tick-top', '#111', 3);
    segment(axes, lon(v), box.y + box.h, lon(v), box.y + box.h + 14, id + '-lon-tick-bottom', '#111', 3);
    label(axes, v.toFixed(3), lon(v), 1041, id + '-lon-label', 36.5, 'middle', -45);
  });
  return {outer, sx, sy, box};
}
const A1 = {x: 303, y: 41, w: 451.5, h: 901};
const A2 = {x: 990, y: 41, w: 450, h: 899};
const A3 = {x: 1674, y: 41, w: 447, h: 899};
const p1 = geoPanel('a1', A1, a1Phase, a1LatTicks, a1LonTicks);
const p2 = geoPanel('a2', A2, a2Phase, a2LatTicks, a2LonTicks);
const p3 = geoPanel('a3', A3, a3Phase, a3LatTicks, a3LonTicks);

a1Outlines.forEach((l, i) => fillPoly(p1.outer, l, p1.sx, p1.sy, 'a1-polygon-interior', phaseColor(a1OutlineFill[i])));
a1Rings.forEach(s => ellipseIn(p1.outer, s, p1.sx, p1.sy, 'a1-fringe-ring', {fill: phaseColor(s[4])}));
a2Outlines.forEach((l, i) => fillPoly(p2.outer, l, p2.sx, p2.sy, 'a2-polygon-interior', phaseColor(a2OutlineFill[i])));

speckle('a1', p1.outer, A1, [
  {pts: [[12,72],[45,62],[72,78],[72,90],[45,82],[12,90]], o: .7},
  {pts: [[50,85],[72,90],[72,112],[55,112]], o: .6},
  {pts: [[22,128],[100,120],[100,150],[22,142]], o: .4},
  {pts: a1Outlines[0], o: 1}, {pts: a1Outlines[1], o: .8}, {pts: a1Outlines[2], o: 1},
  {pts: a1Outlines[4], o: 1}, {pts: a1Outlines[5], o: 1},
  {pts: [[78,182],[90,186],[92,193],[78,194]], o: 1}
], null, p1.sx, p1.sy, 'speckleSparse', 'softSmall');
speckle('a2band', p2.outer, A2, [
  {pts: [[38,100],[38,60],[45,35],[52,15],[70,3],[100,3],[100,80],[75,85],[72,120],[72,145],[80,200],[42,200],[36,150]], o: .9}
], null, p2.sx, p2.sy, 'speckleSparse', 'softBig');
speckle('a2block', p2.outer, A2, [
  {pts: [[76,88],[100,82],[100,132],[88,138],[76,122]], o: 1},
  {pts: [[74,148],[100,150],[100,200],[76,200]], o: 1}
], null, p2.sx, p2.sy, 'speckle', 'softSmall');
speckle('a3field', p3.outer, A3, [
  {pts: [[3,62],[50,72],[45,130],[20,135],[3,110]], o: .7}
], null, p3.sx, p3.sy, 'speckleSparse', 'softBig');
speckle('a3river', p3.outer, A3, [], a3River, p3.sx, p3.sy, 'speckle', 'softSmall');

a3Plumes.forEach(l => {
  const s = strokePoly(p3.outer, l, p3.sx, p3.sy, 'a3-deformation-plume', '#ff4a00', 10, false);
  s.setAttribute('opacity', '.55');
  s.setAttribute('filter', 'url(#softSmall)');
});
a3River.forEach(l => {
  const s = strokePoly(p3.outer, l, p3.sx, p3.sy, 'a3-channel-edge', '#111', 3, false);
  s.setAttribute('opacity', '.75');
});
a2Cracks.forEach((l, i) => strokePoly(p2.outer, l, p2.sx, p2.sy, 'a2-crack', '#000', a2CrackWidth[i], false));
a2Streaks.forEach(l => strokePoly(p2.outer, l, p2.sx, p2.sy, 'a2-streak', '#111', 2.5, false));
a1Outlines.forEach(l => strokePoly(p1.outer, l, p1.sx, p1.sy, 'a1-mapped-polygon', '#fff', 7, true));
a2Outlines.forEach(l => strokePoly(p2.outer, l, p2.sx, p2.sy, 'a2-mapped-polygon', '#fff', 7, true));
a3Spots.forEach(s => {
  ellipseIn(p3.outer, s, p3.sx, p3.sy, 'a3-mapped-polygon', {fill: phaseColor(s[4]), stroke: '#fff', 'stroke-width': 5.5});
});

/* ---------- panel (b) ---------- */
const BTOP = 1344, BH = 778;
const B1 = {x: 148, y: BTOP, w: 386, h: BH};
const B2 = {x: 626, y: BTOP, w: 389, h: BH};
const B3 = {x: 1104, y: BTOP, w: 389, h: BH};
const B4 = {x: 1583, y: BTOP, w: 388, h: BH};

function patchAxes(id, box, showRowLabels, size) {
  const sx = scale(0, 99, box.x, box.x + box.w);
  const sy = scale(0, 199, box.y, box.y + box.h);
  const g = mk('g', overlays, id + '-axes');
  const frame = mk('rect', g, id + '-frame');
  put(frame, {x: box.x, y: box.y, width: box.w, height: box.h, fill: 'none', stroke: '#333', 'stroke-width': 2});
  patchColTicks.forEach(v => {
    segment(g, sx(v), box.y + box.h, sx(v), box.y + box.h + 9, id + '-col-tick', '#333', 2);
    label(g, String(v), sx(v), box.y + box.h + size + 11, id + '-col-label', size, 'middle');
  });
  patchRowTicks.forEach(v => {
    segment(g, box.x - 10, sy(v), box.x, sy(v), id + '-row-tick', '#333', 2);
    if (showRowLabels) label(g, String(v), box.x - 15, sy(v) + size * .37, id + '-row-label', size, 'end');
  });
  return {sx, sy};
}
const b1Outer = heatmap('b1', b1Phase, B1, rasters);
const sb1 = patchAxes('b1', B1, true, 30);
fillPoly(b1Outer, gtOutlines[0], sb1.sx, sb1.sy, 'b1-polygon-rim', phaseColor(18));
b1RimRings.forEach(s => ellipseIn(b1Outer, s, sb1.sx, sb1.sy, 'b1-fringe-ring', {fill: phaseColor(s[4])}));
fillPoly(b1Outer, gtOutlines[2], sb1.sx, sb1.sy, 'b1-polygon-interior', phaseColor(9));
fillPoly(b1Outer, gtOutlines[3], sb1.sx, sb1.sy, 'b1-polygon-interior', phaseColor(9));
speckle('b1dense', b1Outer, B1, [
  {pts: gtOutlines[1], o: 1}
], null, sb1.sx, sb1.sy, 'speckle', 'softSmall');
speckle('b1sparse', b1Outer, B1, [
  {pts: gtOutlines[2], o: 1}, {pts: gtOutlines[3], o: 1}, {pts: gtOutlines[4], o: 1},
  {pts: [[0,170],[15,170],[14,199],[0,199]], o: .7},
  {pts: [[60,125],[72,125],[72,135],[60,135]], o: .6},
  {pts: [[65,55],[85,55],[85,85],[65,85]], o: .3}
], null, sb1.sx, sb1.sy, 'speckleSparse', 'softSmall');
gtOutlines.forEach(l => strokePoly(b1Outer, l, sb1.sx, sb1.sy, 'b1-mapped-polygon', '#fff', 7, true));

function flatPanel(id, box, color) {
  const g = mk('g', rasters, id + '-raster');
  g.setAttribute('clip-path', clipFor(id, box));
  const bg = mk('rect', g, id + '-background');
  put(bg, {x: box.x, y: box.y, width: box.w, height: box.h, fill: color});
  return g;
}
const MASK_BG = '#520060', MASK_FG = '#ffe800';

const b2g = flatPanel('b2', B2, MASK_BG);
const sb2 = patchAxes('b2', B2, false, 30);
gtOutlines.forEach(l => fillPoly(b2g, l, sb2.sx, sb2.sy, 'ground-truth-blob', MASK_FG));

const b3g = flatPanel('b3', B3, MASK_BG);
const sb3 = patchAxes('b3', B3, false, 30);
predictedOutlines.forEach(l => fillPoly(b3g, l, sb3.sx, sb3.sy, 'predicted-blob', MASK_FG));
ellipseIn(b3g, predictedSpot, sb3.sx, sb3.sy, 'predicted-blob', {fill: MASK_FG});
bufferOutlines.forEach(l => strokePoly(b3g, l, sb3.sx, sb3.sy, 'predicted-buffer', '#00f0ff', 7, true, '26 14'));
ellipseIn(b3g, bufferSpot, sb3.sx, sb3.sy, 'predicted-buffer', {fill: 'none', stroke: '#00f0ff', 'stroke-width': 7, 'stroke-dasharray': '26 14'});

const b4g = flatPanel('b4', B4, '#d6d6d6');
const sb4 = patchAxes('b4', B4, false, 30);
const DETECTED = '#9fa0e6', MISSED = '#e09a9f';
gtOutlines.forEach((l, i) => fillPoly(b4g, l, sb4.sx, sb4.sy, 'intersection-blob', i < 2 ? DETECTED : MISSED));
const thirdClip = mk('clipPath', defs, 'clip-third-blob');
thirdClip.setAttribute('id', 'clip-third-blob');
const thirdPath = mk('path', thirdClip, 'clip-third-blob-shape');
thirdPath.setAttribute('d', smoothOf(gtOutlines[2], sb4.sx, sb4.sy));
const thirdHit = mk('g', b4g, 'intersection-overlap');
thirdHit.setAttribute('clip-path', 'url(#clip-third-blob)');
ellipseIn(thirdHit, bufferSpot, sb4.sx, sb4.sy, 'intersection-overlap-fill', {fill: DETECTED});
gtOutlines.forEach(l => strokePoly(b4g, l, sb4.sx, sb4.sy, 'intersection-gt-outline', '#fff', 6, true));
predictedOutlines.forEach(l => strokePoly(b4g, l, sb4.sx, sb4.sy, 'intersection-predicted-outline', '#000', 6, true));
ellipseIn(b4g, predictedSpot, sb4.sx, sb4.sy, 'intersection-predicted-outline', {fill: 'none', stroke: '#000', 'stroke-width': 6});
bufferOutlines.forEach(l => strokePoly(b4g, l, sb4.sx, sb4.sy, 'intersection-buffer-outline', '#00f0ff', 7, true, '26 14'));
ellipseIn(b4g, bufferSpot, sb4.sx, sb4.sy, 'intersection-buffer-outline', {fill: 'none', stroke: '#00f0ff', 'stroke-width': 7, 'stroke-dasharray': '26 14'});

/* ---------- panel (c) ---------- */
const C1 = {x: 2234, y: 1359, w: 330, h: 663};
const c1Outer = heatmap('c1', c1Phase, C1, rasters);
const sc1 = patchAxes('c1', C1, true, 26);
speckle('c1block', c1Outer, C1, [
  {pts: [[0,100],[18,97],[20,112],[18,135],[10,160],[14,180],[30,199],[0,199]], o: 1}
], null, sc1.sx, sc1.sy, 'speckle', 'softSmall');
speckle('c1field', c1Outer, C1, [
  {pts: [[80,145],[99,140],[99,190],[80,190]], o: .7},
  {pts: [[20,0],[99,0],[99,60],[20,60]], o: .25}
], null, sc1.sx, sc1.sy, 'speckleSparse', 'softBig');
c1Streaks.forEach((l, i) => strokePoly(c1Outer, l, sc1.sx, sc1.sy, 'c1-streak', '#000', i === 1 || i === 3 ? 6 : 4, false));
ellipseIn(c1Outer, [23, 87, 3.6, 6.6], sc1.sx, sc1.sy, 'c1-polygon-outline', {fill: '#fff'});
ellipseIn(c1Outer, [23, 87, 2.7, 5.2], sc1.sx, sc1.sy, 'c1-polygon-core', {fill: '#111'});
ellipseIn(c1Outer, [23, 87, 1.3, 2.6], sc1.sx, sc1.sy, 'c1-polygon-centre', {fill: '#00b0c0'});
ellipseIn(c1Outer, [0.5, 165, 1.4, 7], sc1.sx, sc1.sy, 'c1-no-data-gap', {fill: '#fff'});

const INSET = {x: 2643, y: 1368, w: 573, h: 654};
const colX = scale(1, 24, 2659.3, 3204.4);
const rowY = scale(1, 27, 1384, 1999);
const insetG = mk('g', rasters, 'inset-raster');
insetG.setAttribute('clip-path', clipFor('inset', INSET));
insetPhase.forEach((row, r) => row.forEach((v, c) => {
  const cell = mk('rect', insetG, 'inset-cell');
  put(cell, {x: colX(c), y: rowY(r), width: colX(c + 1) - colX(c) + .6, height: rowY(r + 1) - rowY(r) + .6, fill: phaseColor(v)});
}));
strokePoly(insetG, insetGtOutline, colX, rowY, 'inset-gt-outline', '#fff', 7.5, 'sharp');
strokePoly(insetG, insetPredOutline, colX, rowY, 'inset-predicted-outline', '#000', 8, 'sharp');
segment(overlays, INSET.x, INSET.y, INSET.x + INSET.w, INSET.y, 'inset-top-edge', '#222', 3);
segment(overlays, INSET.x, INSET.y + INSET.h, INSET.x + INSET.w, INSET.y + INSET.h, 'inset-bottom-edge', '#222', 3);
segment(overlays, INSET.x + INSET.w, INSET.y, INSET.x + INSET.w, INSET.y + INSET.h, 'inset-right-edge', '#222', 3);
</script>
</body>
</html>
